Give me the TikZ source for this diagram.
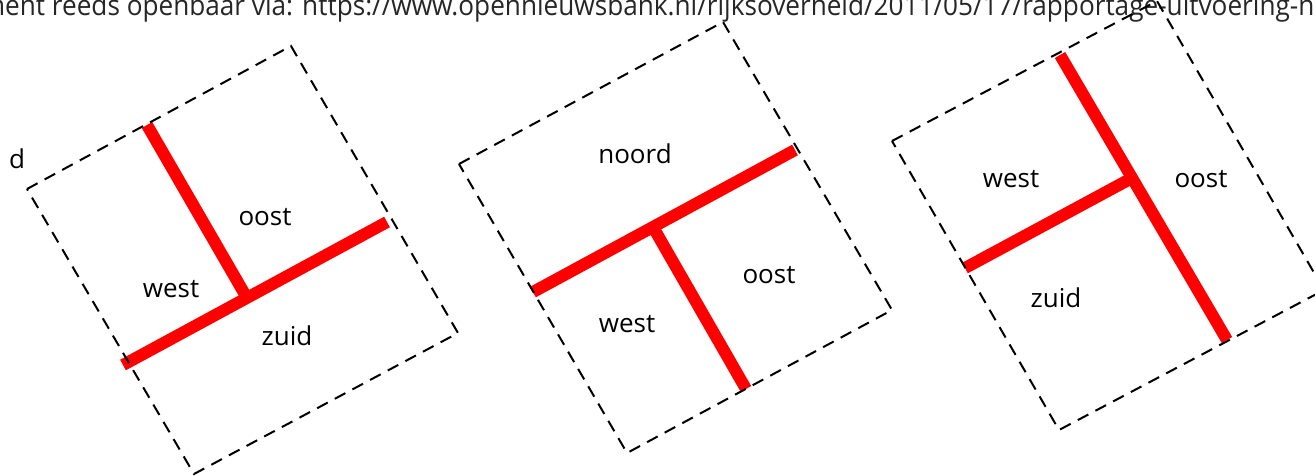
\documentclass[tikz,border=0pt]{standalone}
\usepackage{fontspec}
\setmainfont{Open Sans}
\usepackage{graphicx}
\begin{document}
\begin{tikzpicture}[x=1pt,y=-1pt,
  frame/.style={draw=black,line width=2pt,dash pattern=on 12pt off 8pt},
  road/.style={draw=red,line width=12pt,line cap=butt},
  lbl/.style={font=\fontsize{26}{30}\selectfont,anchor=base,inner sep=0pt}]
\useasboundingbox (0,0) rectangle (1315,475);
\clip (0,0) rectangle (1315,475);

% source line at the top (cut off)
\node[anchor=base west, inner sep=0pt, text=black!85] (src) at (5,15)
  {\resizebox{1293pt}{\height}{\fontsize{28}{30}\selectfont\llap{m}ent reeds openbaar via: https://www.opennieuwsbank.nl/rijksoverheid/2011/05/17/rapportage-uitvoering-\rlap{n}}};

% ---------- box 1 ----------
\coordinate (a1) at (27,189);
\coordinate (b1) at (291,46);
\coordinate (c1) at (458,333);
\coordinate (d1) at (194,474);
\coordinate (r1s) at (123,365);
\coordinate (r1e) at (387,222);
\coordinate (s1t) at (147,125);
\coordinate (s1j) at (247,298);
\draw[road] (r1s) -- (r1e);
\draw[road] (s1t) -- (s1j);
\draw[frame] (a1) -- (b1) -- (c1) -- (d1) -- cycle;
\node[lbl] (d) at (17,168) {d};
\node[lbl] (oost1) at (265,225) {oost};
\node[lbl] (west1) at (171,297) {west};
\node[lbl] (zuid1) at (287,345) {zuid};

% ---------- box 2 ----------
\coordinate (a2) at (459,164);
\coordinate (b2) at (723,22);
\coordinate (c2) at (892,310);
\coordinate (d2) at (627,453);
\coordinate (r2s) at (533,292);
\coordinate (r2e) at (795,150);
\coordinate (s2b) at (746,389);
\coordinate (s2j) at (653,227);
\draw[road] (r2s) -- (r2e);
\draw[road] (s2b) -- (s2j);
\draw[frame] (a2) -- (b2) -- (c2) -- (d2) -- cycle;
\node[lbl] (noord2) at (635,163) {noord};
\node[lbl] (oost2) at (769,283) {oost};
\node[lbl] (west2) at (627,332) {west};

% ---------- box 3 ----------
\coordinate (a3) at (892,141);
\coordinate (b3) at (1157,1);
\coordinate (c3) at (1324,290);
\coordinate (d3) at (1059,430);
\coordinate (r3s) at (1060,55);
\coordinate (r3e) at (1227,340);
\coordinate (s3l) at (965,268);
\coordinate (s3j) at (1132,178);
\draw[road] (r3s) -- (r3e);
\draw[road] (s3l) -- (s3j);
\draw[frame] (a3) -- (b3) -- (c3) -- (d3) -- cycle;
\node[lbl] (west3) at (1011,187) {west};
\node[lbl] (oost3) at (1201,187) {oost};
\node[lbl] (zuid3) at (1056,307) {zuid};
\end{tikzpicture}
\end{document}
